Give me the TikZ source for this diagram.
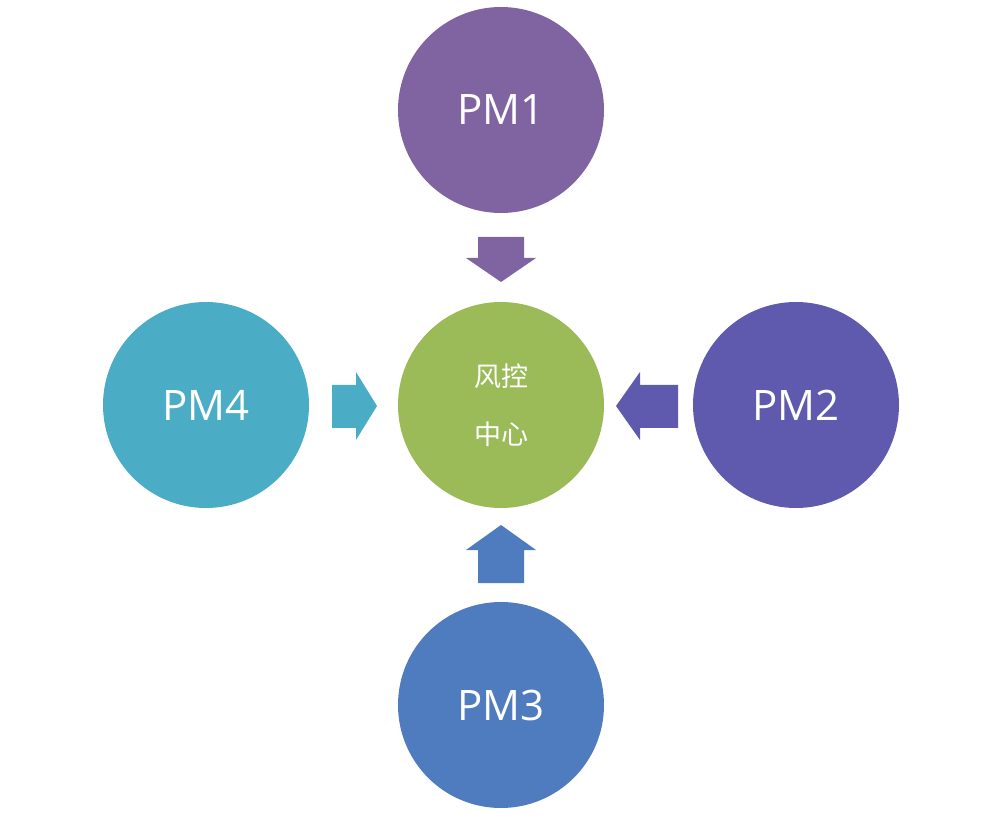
\documentclass[tikz,border=0pt]{standalone}
\usepackage{fontspec}
\setmainfont{Open Sans}
\newfontfamily\cjk{Noto Sans CJK SC}
\definecolor{cA}{HTML}{8064A2}
\definecolor{cC}{HTML}{9BBB59}
\definecolor{cB}{HTML}{5F5AAD}
\definecolor{cD}{HTML}{4BACC6}
\definecolor{cE}{HTML}{4F7CBE}
\begin{document}
\begin{tikzpicture}[x=1pt,y=-1pt,
  circ/.style={circle,minimum size=206pt,inner sep=0pt,text=white,font=\fontsize{42}{50}\selectfont},
  arr/.style={fill=#1,draw=none}]
\useasboundingbox (0,0) rectangle (989,818);
\node[circ,fill=cA] (pm1) at (501,110) {PM1};
\node[circ,fill=cC,font=\cjk\fontsize{27}{58}\selectfont,align=center] (ctr) at (501,405) {风控\\中心};
\node[circ,fill=cB] (pm2) at (796,405) {PM2};
\node[circ,fill=cD] (pm4) at (206,405) {PM4};
\node[circ,fill=cE] (pm3) at (501,705) {PM3};
% down arrow (PM1)
\fill[cA] (478,237)--(524,237)--(524,258)--(536,258)--(501,282)--(466,258)--(478,258)--cycle;
% up arrow (PM3)
\fill[cE] (478,583)--(524,583)--(524,550)--(536,550)--(501,525)--(466,550)--(478,550)--cycle;
% right arrow (PM4)
\fill[cD] (332,385)--(356,385)--(356,372)--(377,406)--(356,440)--(356,428)--(332,428)--cycle;
% left arrow (PM2)
\fill[cB] (678,385)--(640,385)--(640,372)--(616,406)--(640,440)--(640,428)--(678,428)--cycle;
\end{tikzpicture}
\end{document}
